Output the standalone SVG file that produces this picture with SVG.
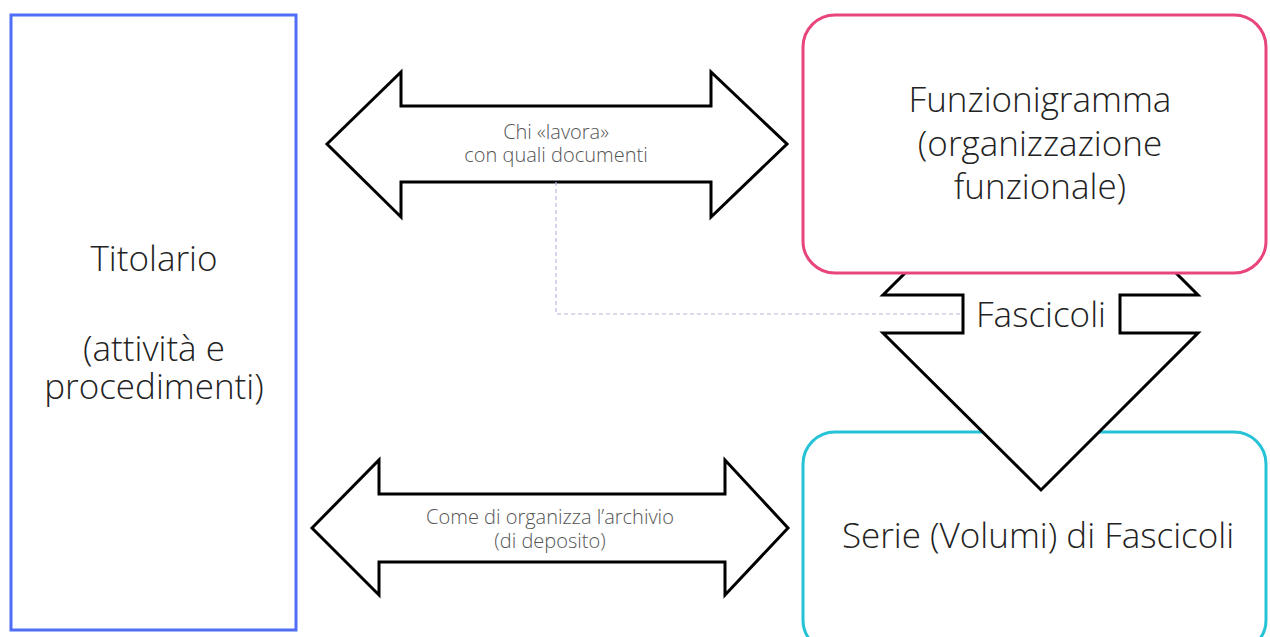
<svg xmlns="http://www.w3.org/2000/svg" width="1270" height="637" viewBox="0 0 1270 637">
<style>
.big{font-family:"Open Sans","Liberation Sans",sans-serif;font-weight:300;font-size:35px;fill:#222;text-anchor:middle}
.small{font-family:"Open Sans","Liberation Sans",sans-serif;font-weight:300;font-size:20px;fill:#555;text-anchor:middle}
.arrow{fill:#fff;stroke:#000;stroke-width:3;stroke-linejoin:miter}
</style>
<rect width="1270" height="637" fill="#fff"/>
<g id="titolario">
<rect x="11" y="15" width="285" height="615" fill="#fff" stroke="#4f6ef5" stroke-width="3"/>
<text class="big" x="154" y="271">Titolario</text>
<text class="big" x="154" y="361">(attività e</text>
<text class="big" x="154" y="399">procedimenti)</text>
</g>
<g id="serie">
<rect x="803" y="432" width="463" height="220" rx="32" fill="#fff" stroke="#26c2d6" stroke-width="3"/>
<text class="big" x="1038" y="548">Serie (Volumi) di Fascicoli</text>
</g>
<g id="connectors">
<path class="arrow" d="M327,144 L401,72 L401,106 L711,106 L711,72 L787,144 L711,217 L711,182 L401,182 L401,217 Z"/>
<text class="small" x="556" y="139">Chi «lavora»</text>
<text class="small" x="556" y="162">con quali documenti</text>
<path class="arrow" d="M312,528 L379,460 L379,494 L725,494 L725,460 L788,528 L725,595 L725,562 L379,562 L379,595 Z"/>
<text class="small" x="550" y="524">Come di organizza l’archivio</text>
<text class="small" x="550" y="548">(di deposito)</text>
<path class="arrow" d="M1041,138 L1198,295 L1120,295 L1120,333 L1198,333 L1041,490 L883,333 L963,333 L963,295 L883,295 Z"/>
<path d="M556,182 L556,314 L960,314" fill="none" stroke="#b8b8e0" stroke-width="1.2" stroke-dasharray="4,3"/>
<text class="big" x="1041" y="327">Fascicoli</text>
</g>
<g id="funzionigramma">
<rect x="803" y="15" width="463" height="258" rx="32" fill="#fff" stroke="#e8457a" stroke-width="3"/>
<text class="big" x="1040" y="112">Funzionigramma</text>
<text class="big" x="1040" y="156">(organizzazione</text>
<text class="big" x="1040" y="199">funzionale)</text>
</g>
</svg>
